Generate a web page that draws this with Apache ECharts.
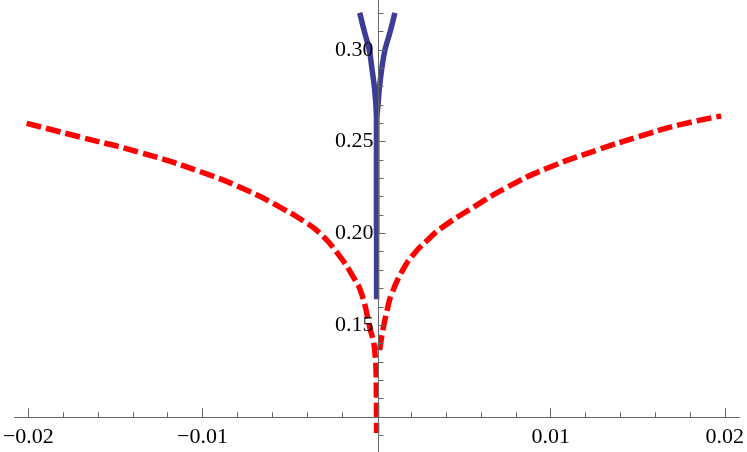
<!DOCTYPE html>
<html>
<head>
<meta charset="utf-8">
<script src="https://cdn.jsdelivr.net/npm/echarts@6/dist/echarts.min.js"></script>
<style>
html,body{margin:0;padding:0;background:#fff;}
#c{width:747px;height:452px;}
</style>
</head>
<body>
<div id="c"></div>
<script>
// ---- data ----
const redLeft = [
  [-0.0201, 0.2600], [-0.01697, 0.2524], [-0.01354, 0.2440], [-0.01011, 0.2336],
  [-0.00726, 0.2227], [-0.00540, 0.2135], [-0.00440, 0.2080], [-0.00326, 0.2001],
  [-0.00211, 0.1875], [-0.00135, 0.1764], [-0.00087, 0.1673], [-0.00040, 0.1491],
  [-0.00011, 0.1364], [-0.00002, 0.1184], [0.0, 0.0912]
];
const redRight = [
  [0.00017, 0.1364], [0.00036, 0.1473], [0.00065, 0.1600], [0.00084, 0.1664],
  [0.0015, 0.1800], [0.00217, 0.1891], [0.00293, 0.1964], [0.0037, 0.2028],
  [0.0056, 0.2145], [0.0075, 0.2252], [0.00979, 0.2355], [0.01274, 0.2457],
  [0.01503, 0.2527], [0.01731, 0.2590], [0.01979, 0.2640]
];
const blueLeft = [
  [-0.00097, 0.3203], [-0.00070, 0.3100], [-0.00042, 0.3000], [-0.00027, 0.2900],
  [-0.00013, 0.2800], [-0.00004, 0.2700], [0.0, 0.2600], [0.0, 0.1641]
];
const blueRight = [
  [0.0, 0.2000], [0.0, 0.2600], [0.00008, 0.2700], [0.00017, 0.2800],
  [0.00030, 0.2900], [0.00048, 0.3000], [0.00078, 0.3100], [0.00105, 0.3203]
];
const xMajorTicks = [-0.02, -0.01, 0.01, 0.02];
const xMinorTicks = [-0.018, -0.016, -0.014, -0.012, -0.008, -0.006, -0.004, -0.002,
                     0.002, 0.004, 0.006, 0.008, 0.012, 0.014, 0.016, 0.018];
const yMajorTicks = [0.15, 0.20, 0.25, 0.30];
const yMinorTicks = [0.09, 0.10, 0.11, 0.12, 0.13, 0.14, 0.16, 0.17, 0.18, 0.19,
                     0.21, 0.22, 0.23, 0.24, 0.26, 0.27, 0.28, 0.29, 0.31, 0.32];

// ---- layout ----
const W = 747, H = 452;
const gridLeft = 13, gridRight = 5;
const xZeroPx = 377, xPxPerUnit = 17500;
const xAxisPx = 417.3;
const yPxPerUnit = 1834, y030Px = 50;
const xMin = (gridLeft - xZeroPx) / xPxPerUnit;
const xMax = (W - gridRight - xZeroPx) / xPxPerUnit;
const yMax = 0.30 + y030Px / yPxPerUnit;
const yMin = 0.30 - (H - y030Px) / yPxPerUnit;
const axisColor = '#666';
const fontFam = '"Liberation Serif", "Times New Roman", serif';
const fontSz = 22;

function fmt(v){ return (v < 0 ? '\u2212' : '') + Math.abs(v).toFixed(2); }

const chart = echarts.init(document.getElementById('c'), null, {renderer:'canvas'});
const xBase = {type:'value', min:xMin, max:xMax, position:'bottom', gridIndex:0,
  offset: -(H - xAxisPx), splitLine:{show:false}, z:5};
const yBase = {type:'value', min:yMin, max:yMax, position:'left', gridIndex:0,
  offset: -(xZeroPx - gridLeft), splitLine:{show:false}, z:5};

const redStyle = {color:'#ff0000', width:5.5, type:[15,5], cap:'butt'};
const blueStyle = {color:'#3d3d99', width:5.5, cap:'butt', join:'round'};

chart.setOption({
  animation:false,
  backgroundColor:'#fff',
  grid:[{left:gridLeft, right:gridRight, top:0, bottom:0, containLabel:false}],
  xAxis:[
    Object.assign({}, xBase, {
      axisLine:{show:true, onZero:false, lineStyle:{color:axisColor, width:1}},
      axisTick:{show:true, inside:true, length:9, customValues:xMajorTicks, lineStyle:{color:axisColor}},
      axisLabel:{show:true, customValues:xMajorTicks, margin:9, color:'#000',
        fontFamily:fontFam, fontSize:fontSz, formatter:fmt}
    }),
    Object.assign({}, xBase, {
      axisLine:{show:false, onZero:false},
      axisTick:{show:true, inside:true, length:5, customValues:xMinorTicks, lineStyle:{color:axisColor}},
      axisLabel:{show:false}
    })
  ],
  yAxis:[
    Object.assign({}, yBase, {
      axisLine:{show:true, onZero:false, lineStyle:{color:axisColor, width:1}},
      axisTick:{show:true, inside:true, length:7, customValues:yMajorTicks, lineStyle:{color:axisColor}},
      axisLabel:{show:true, customValues:yMajorTicks, margin:5, color:'#000',
        fontFamily:fontFam, fontSize:fontSz, formatter:fmt}
    }),
    Object.assign({}, yBase, {
      axisLine:{show:false, onZero:false},
      axisTick:{show:true, inside:true, length:5, customValues:yMinorTicks, lineStyle:{color:axisColor}},
      axisLabel:{show:false}
    })
  ],
  series:[
    {type:'line', data:redLeft, showSymbol:false, smooth:0.5, lineStyle:redStyle, z:2},
    {type:'line', data:redRight, showSymbol:false, smooth:0.5, lineStyle:redStyle, z:2},
    {type:'line', data:blueLeft, showSymbol:false, smooth:0.4, lineStyle:blueStyle, z:3},
    {type:'line', data:blueRight, showSymbol:false, smooth:0.4, lineStyle:blueStyle, z:3}
  ]
});
</script>
</body>
</html>
